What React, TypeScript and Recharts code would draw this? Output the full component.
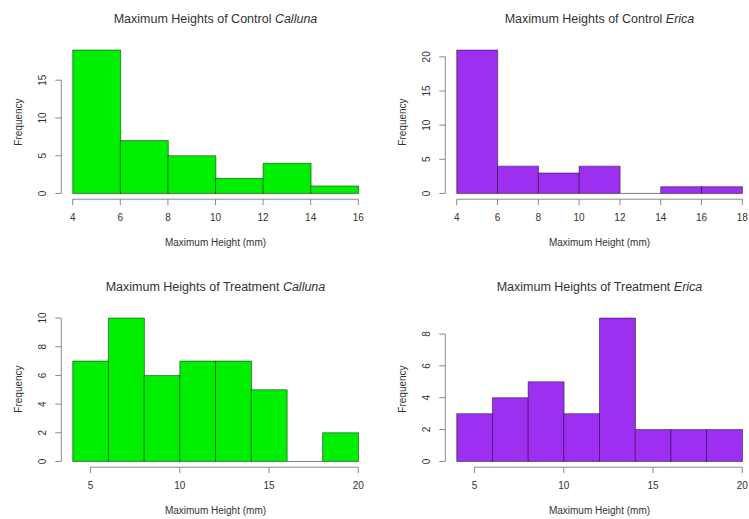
import React from 'react';
import { ComposedChart, Bar, Cell, XAxis, YAxis, ReferenceLine } from 'recharts';

// histogram breaks (bin edges) and counts
const controlCallunaBreaks = [4, 6, 8, 10, 12, 14, 16];
const controlCallunaCounts = [19, 7, 5, 2, 4, 1];
const controlCallunaXTicks = [4, 6, 8, 10, 12, 14, 16];
const controlCallunaYTicks = [0, 5, 10, 15];

const controlEricaBreaks = [4, 6, 8, 10, 12, 14, 16, 18];
const controlEricaCounts = [21, 4, 3, 4, 0, 1, 1];
const controlEricaXTicks = [4, 6, 8, 10, 12, 14, 16, 18];
const controlEricaYTicks = [0, 5, 10, 15, 20];

const treatmentCallunaBreaks = [4, 6, 8, 10, 12, 14, 16, 18, 20];
const treatmentCallunaCounts = [7, 10, 6, 7, 7, 5, 0, 2];
const treatmentCallunaXTicks = [5, 10, 15, 20];
const treatmentCallunaYTicks = [0, 2, 4, 6, 8, 10];

const treatmentEricaBreaks = [4, 6, 8, 10, 12, 14, 16, 18, 20];
const treatmentEricaCounts = [3, 4, 5, 3, 9, 2, 2, 2];
const treatmentEricaXTicks = [5, 10, 15, 20];
const treatmentEricaYTicks = [0, 2, 4, 6, 8];

const GREEN = '#00ee00';
const PURPLE = '#9d2ff0';
const AXIS = '#8a8a8a';
const TEXT = '#333';

const W = 384;
const H = 268;
const PLOT_LEFT = 61.3;
const PLOT_RIGHT = 14.3;
const PLOT_TOP = 44.3;
const PLOT_BOTTOM = 68.8;
const PLOT_W = W - PLOT_LEFT - PLOT_RIGHT;

const RotatedTick = (props: any) => {
  const { x, y, payload } = props;
  return (
    <text x={x} y={y} transform={`rotate(-90 ${x} ${y})`} textAnchor="middle" fontSize={10} fill={TEXT}>
      {payload.value}
    </text>
  );
};

interface HistProps {
  left: number;
  top: number;
  group: string;
  species: string;
  breaks: number[];
  counts: number[];
  xTicks: number[];
  yTicks: number[];
  fill: string;
}

function Histogram({ left, top, group, species, breaks, counts, xTicks, yTicks, fill }: HistProps) {
  const data = counts.map((c, i) => ({ mid: (breaks[i] + breaks[i + 1]) / 2, count: c }));
  const lo = breaks[0];
  const hi = breaks[breaks.length - 1];
  const xPad = (hi - lo) * 0.04;
  const xDomain = [lo - xPad, hi + xPad];
  const yMax = Math.max(...counts);
  const yDomain = [-yMax * 0.04, yMax * 1.04];

  return (
    <div style={{ position: 'absolute', left, top, width: W, height: H }}>
      <div style={{ position: 'absolute', left: PLOT_LEFT, width: PLOT_W, top: 12, fontSize: 12.5, lineHeight: '14px', textAlign: 'center', color: TEXT }}>
        Maximum Heights of {group} <i>{species}</i>
      </div>
      <div style={{ position: 'absolute', left: PLOT_LEFT, width: PLOT_W, top: 237.3, fontSize: 10, lineHeight: '12px', textAlign: 'center', color: TEXT }}>
        Maximum Height (mm)
      </div>
      <div style={{ position: 'absolute', left: 19 - 60, width: 120, top: 121.7 - 6, fontSize: 10, lineHeight: '12px', textAlign: 'center', color: TEXT, transform: 'rotate(-90deg)' }}>
        Frequency
      </div>
      <ComposedChart width={W} height={H} data={data} barCategoryGap={0}
        margin={{ top: PLOT_TOP, right: PLOT_RIGHT, bottom: 0, left: 0 }}>
        <XAxis type="number" dataKey="mid" domain={xDomain} ticks={xTicks} allowDataOverflow interval={0}
          axisLine={false} tickLine={{ stroke: AXIS }} tickSize={6} tickMargin={9} height={PLOT_BOTTOM}
          tick={{ fontSize: 10, fill: TEXT }} />
        <YAxis type="number" domain={yDomain} ticks={yTicks} allowDataOverflow interval={0}
          axisLine={false} tickLine={{ stroke: AXIS }} tickSize={6} tickMargin={9} width={PLOT_LEFT}
          tick={<RotatedTick />} />
        <ReferenceLine ifOverflow="visible" stroke={AXIS}
          segment={[{ x: xTicks[0], y: yDomain[0] }, { x: xTicks[xTicks.length - 1], y: yDomain[0] }]} />
        <ReferenceLine ifOverflow="visible" stroke={AXIS}
          segment={[{ x: xDomain[0], y: yTicks[0] }, { x: xDomain[0], y: yTicks[yTicks.length - 1] }]} />
        <Bar dataKey="count" fill={fill} stroke="rgba(0,0,0,0.45)" strokeWidth={1} minPointSize={0.01} isAnimationActive={false}>
          {data.map((d, i) => (
            <Cell key={i} fill={d.count === 0 ? 'none' : fill} stroke={d.count === 0 ? AXIS : 'rgba(0,0,0,0.45)'} />
          ))}
        </Bar>
      </ComposedChart>
    </div>
  );
}

export default function App() {
  return (
    <div style={{ position: 'absolute', left: 0, top: 0, width: 749, height: 519, overflow: 'hidden', background: '#fff', fontFamily: '"Liberation Sans", Arial, sans-serif' }}>
      <Histogram left={0} top={0} group="Control" species="Calluna" breaks={controlCallunaBreaks}
        counts={controlCallunaCounts} xTicks={controlCallunaXTicks} yTicks={controlCallunaYTicks} fill={GREEN} />
      <Histogram left={384} top={0} group="Control" species="Erica" breaks={controlEricaBreaks}
        counts={controlEricaCounts} xTicks={controlEricaXTicks} yTicks={controlEricaYTicks} fill={PURPLE} />
      <Histogram left={0} top={267.7} group="Treatment" species="Calluna" breaks={treatmentCallunaBreaks}
        counts={treatmentCallunaCounts} xTicks={treatmentCallunaXTicks} yTicks={treatmentCallunaYTicks} fill={GREEN} />
      <Histogram left={384} top={267.7} group="Treatment" species="Erica" breaks={treatmentEricaBreaks}
        counts={treatmentEricaCounts} xTicks={treatmentEricaXTicks} yTicks={treatmentEricaYTicks} fill={PURPLE} />
    </div>
  );
}
